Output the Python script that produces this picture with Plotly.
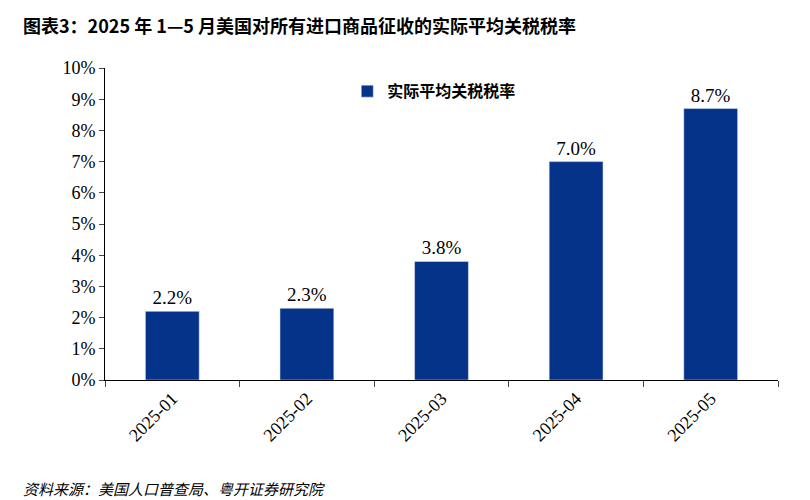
import plotly.graph_objects as go

months = ["2025-01", "2025-02", "2025-03", "2025-04", "2025-05"]
rates = [2.2, 2.3, 3.8, 7.0, 8.7]
labels = ["2.2%", "2.3%", "3.8%", "7.0%", "8.7%"]
y_ticks = list(range(0, 11))

serif = "Liberation Serif, Times New Roman, serif"
cjk = "Noto Sans CJK SC"

fig = go.Figure()
fig.add_trace(go.Bar(
    x=months, y=rates, name="<b>实际平均关税税率</b>",
    marker_color="#06338a", width=0.4,
    text=labels, textposition="outside",
    textfont=dict(family=serif, size=19, color="black"),
    cliponaxis=False,
))

fig.update_layout(
    width=810, height=500,
    margin=dict(l=97, r=40, t=60, b=128),
    plot_bgcolor="white", paper_bgcolor="white",
    showlegend=True,
    legend=dict(x=0.36, y=0.98, xanchor="left", yanchor="top",
                font=dict(family=cjk, size=16, color="black"),
                bgcolor="rgba(0,0,0,0)"),
    xaxis=dict(type="category", showline=True, linecolor="black", ticks="outside",
               tickson="boundaries", ticklen=6, tickangle=-45,
               tickfont=dict(family=serif, size=18, color="black")),
    yaxis=dict(range=[0, 10], tickvals=y_ticks,
               ticktext=[f"{v}%" for v in y_ticks],
               showline=True, linecolor="black", ticks="outside", ticklen=5,
               showgrid=False, zeroline=False,
               tickfont=dict(family=serif, size=18, color="black")),
)

fig.add_annotation(text="<b>图表3：2025 年 1—5 月美国对所有进口商品征收的实际平均关税税率</b>",
                   xref="paper", yref="paper", x=-0.125, y=1.0, yshift=58,
                   xanchor="left", yanchor="top", showarrow=False,
                   font=dict(family=cjk, size=18, color="black"))
fig.add_annotation(text="<i>资料来源：美国人口普查局、粤开证券研究院</i>",
                   xref="paper", yref="paper", x=-0.125, y=0, yshift=-96,
                   xanchor="left", yanchor="top", showarrow=False,
                   font=dict(family=cjk, size=15, color="black"))

fig.write_html("out.html")
